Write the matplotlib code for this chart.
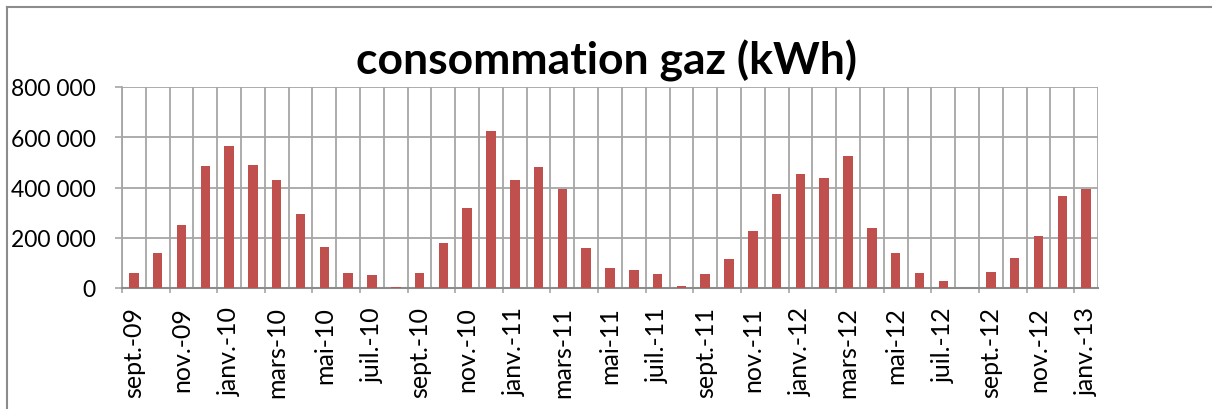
import numpy as np
import matplotlib
matplotlib.use("Agg")
import matplotlib.pyplot as plt
from matplotlib.lines import Line2D

plt.rcParams['font.family'] = ['Lato', 'DejaVu Sans']

mois = ["sept.-09", "oct.-09", "nov.-09", "déc.-09",
        "janv.-10", "févr.-10", "mars-10", "avr.-10", "mai-10", "juin-10",
        "juil.-10", "août-10", "sept.-10", "oct.-10", "nov.-10", "déc.-10",
        "janv.-11", "févr.-11", "mars-11", "avr.-11", "mai-11", "juin-11",
        "juil.-11", "août-11", "sept.-11", "oct.-11", "nov.-11", "déc.-11",
        "janv.-12", "févr.-12", "mars-12", "avr.-12", "mai-12", "juin-12",
        "juil.-12", "août-12", "sept.-12", "oct.-12", "nov.-12", "déc.-12",
        "janv.-13"]
conso = [60000, 138000, 252000, 486000,
         566000, 491000, 431000, 293000, 165000, 61000,
         52000, 5000, 60000, 180000, 318000, 624000,
         429000, 483000, 395000, 158000, 80000, 73000,
         57000, 8000, 57000, 115000, 228000, 374000,
         454000, 438000, 527000, 240000, 141000, 60000,
         29000, 0, 65000, 121000, 206000, 368000,
         394000]
y_ticks = [0, 200000, 400000, 600000, 800000]

grid_col = "#a6a6a6"
bar_col = "#c0504d"

fig = plt.figure(figsize=(12.12, 4.1), dpi=100)
ax = fig.add_axes([122 / 1212, 1 - 289 / 410, (1098 - 122) / 1212, (289 - 88) / 410])

x = np.arange(len(mois))
ax.bar(x, conso, width=0.4, color=bar_col, zorder=3)

ax.set_xlim(-0.5, len(mois) - 0.5)
ax.set_ylim(0, 800000)

ax.set_yticks(y_ticks)
ax.set_yticklabels([f"{v:,}".replace(",", " ") for v in y_ticks])
ax.tick_params(axis="y", length=5, width=1.2, color=grid_col, labelsize=16.5, pad=14)
ax.yaxis.grid(True, color=grid_col, linewidth=1.3, zorder=0)

ax.set_xticks(x[::2])
ax.set_xticklabels(mois[::2], rotation=90)
ax.tick_params(axis="x", length=0, labelsize=18, pad=13)
bounds = np.arange(len(mois) + 1) - 0.5
ax.set_xticks(bounds, minor=True)
ax.tick_params(axis="x", which="minor", length=0)
ax.xaxis.grid(True, which="minor", color=grid_col, linewidth=1.3, zorder=0)
ax.vlines(bounds[::2], -0.025, 0, transform=ax.get_xaxis_transform(),
          color=grid_col, linewidth=1.2, clip_on=False)

for side in ["top", "right"]:
    ax.spines[side].set_visible(False)
ax.spines["left"].set_color(grid_col)
ax.spines["left"].set_linewidth(1.3)
ax.spines["bottom"].set_color("#8c8c8c")
ax.spines["bottom"].set_linewidth(1.5)
ax.set_axisbelow(True)

fig.text(0.5, 1 - 61 / 410, "consommation gaz (kWh)", ha="center", va="center",
         fontsize=32, fontweight="bold")

# cadre du graphique
fig.add_artist(Line2D([7 / 1212, 7 / 1212], [0, 1 - 8 / 410], color="#8c8c8c", linewidth=1.5))
fig.add_artist(Line2D([7 / 1212, 1], [1 - 8 / 410, 1 - 8 / 410], color="#8c8c8c", linewidth=1.5))

fig.savefig("out.png", dpi=100)
